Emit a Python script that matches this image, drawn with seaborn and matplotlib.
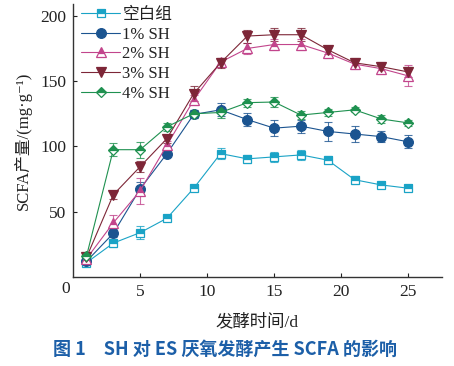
import matplotlib
matplotlib.use("Agg")
import matplotlib.pyplot as plt
import seaborn as sns
import numpy as np

days = [1, 3, 5, 7, 9, 11, 13, 15, 17, 19, 21, 23, 25]
series_names = ["空白组", "1% SH", "2% SH", "3% SH", "4% SH"]
blank = [11, 26, 34, 45, 68, 94.5, 90.5, 92, 93.5, 89.5, 74.5, 70.5, 68]
sh1 = [12, 33.5, 67.5, 94.5, 124.5, 128, 120.5, 114, 115.5, 111.5, 109.5, 107.5, 103.5]
sh2 = [14, 41.5, 66, 101, 135.5, 164.5, 175, 178, 178, 171.5, 163, 159.5, 154]
sh3 = [15, 63, 84.5, 106, 140.5, 164, 184.5, 185.5, 185.5, 174, 164, 161, 157]
sh4 = [16, 97.5, 97.5, 115, 125, 126, 133.5, 134, 124, 126, 128, 121, 118]
err_blank = [2, 3, 5, 2, 2, 4, 3, 4, 4, 3, 3, 2, 2]
err_sh1 = [2, 3, 5, 2, 3, 5, 5, 6, 5, 7, 6, 4, 5]
err_sh2 = [3, 6, 10, 3, 4, 3, 4, 4, 4, 4, 4, 4, 8]
err_sh3 = [2, 3, 4, 3, 6, 4, 5, 5, 5, 3, 4, 4, 4]
err_sh4 = [3, 5, 6, 3, 3, 4, 3, 4, 3, 3, 2, 3, 2]
x_ticks = [5, 10, 15, 20, 25]
y_ticks = [50, 100, 150, 200]

values = [blank, sh1, sh2, sh3, sh4]
errors = [err_blank, err_sh1, err_sh2, err_sh3, err_sh4]
colors = ["#1aa3c6", "#1b5490", "#c2458c", "#7d2637", "#1f9150"]
markers = ["s", "o", "^", "v", "D"]
fills = ["top", "full", "top", "full", "top"]
msizes = [5.5, 7, 6.5, 7.5, 5.5]

sns.set_theme(style="white")
plt.rcParams["font.family"] = ["Liberation Serif", "Noto Sans CJK SC", "DejaVu Sans"]

fig = plt.figure(figsize=(4.54, 3.66), dpi=100)
ax = fig.add_axes([0.161, 0.243, 0.812, 0.746])

for name, v, e, c, m, f, ms in zip(series_names, values, errors, colors, markers, fills, msizes):
    ax.errorbar(days, v, yerr=e, fmt="none", ecolor=c, elinewidth=0.8,
                capsize=3, capthick=0.8, zorder=2, alpha=0.8)
    sns.lineplot(x=days, y=v, ax=ax, color=c, marker=m, fillstyle=f,
                 markerfacecoloralt="white", markeredgecolor=c,
                 markeredgewidth=0.9, markersize=ms, linewidth=0.8,
                 label=name, zorder=3)

ax.set_xlim(0, 27.5)
ax.set_ylim(0, 209)
ax.set_xticks(x_ticks)
ax.set_yticks(y_ticks)
ax.tick_params(axis="both", direction="in", length=3, width=0.8,
               labelsize=12.5, colors="#222222", bottom=True, left=True)
ax.tick_params(axis="x", pad=5)
ax.tick_params(axis="y", pad=5)
for s in ["top", "right"]:
    ax.spines[s].set_visible(False)
for s in ["left", "bottom"]:
    ax.spines[s].set_color("#333333")
    ax.spines[s].set_linewidth(1.0)

ax.text(-0.2, -3, "0", ha="right", va="top", fontsize=12.5, color="#222222")

ax.set_xlabel("发酵时间/d", fontsize=12.5, color="#222222", labelpad=10)
ax.set_ylabel("SCFA产量/(mg·g⁻¹)", fontsize=12, color="#222222", labelpad=6)

leg = ax.legend(loc="upper left", bbox_to_anchor=(0.0, 1.02), frameon=False,
                fontsize=12, handlelength=2.3, handletextpad=0.15,
                labelspacing=0.22, borderaxespad=0.2, borderpad=0.3)
for t in leg.get_texts():
    t.set_color("#222222")

fig.text(0.495, 0.045, "图 1　SH 对 ES 厌氧发酵产生 SCFA 的影响", ha="center", va="center",
         fontsize=13, color="#1c5fa8", fontweight="bold",
         family=["Noto Sans CJK SC", "DejaVu Sans"])

fig.savefig("out.png", dpi=100)
